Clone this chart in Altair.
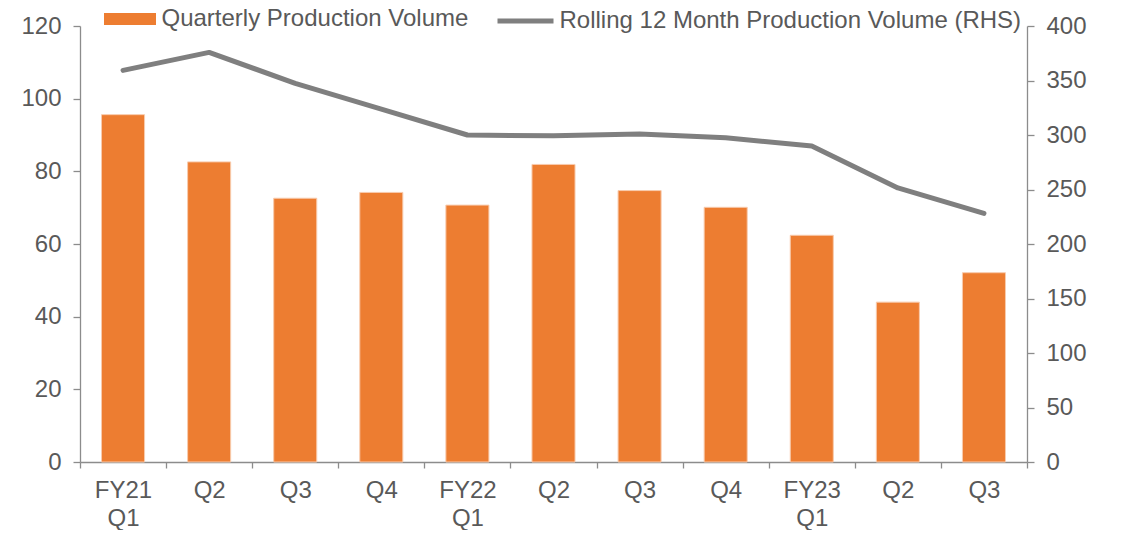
import altair as alt
import pandas as pd

# ---- data ----
periods = ["FY21 Q1", "FY21 Q2", "FY21 Q3", "FY21 Q4",
           "FY22 Q1", "FY22 Q2", "FY22 Q3", "FY22 Q4",
           "FY23 Q1", "FY23 Q2", "FY23 Q3"]
quarterly_volume = [95.6, 82.6, 72.6, 74.2, 70.7, 81.9, 74.7, 70.1, 62.4, 44.0, 52.1]
rolling_12m_volume = [359.3, 375.8, 347.4, 323.8, 300.0, 299.2, 301.0, 297.5, 289.9, 251.4, 228.1]
left_ticks = [0, 20, 40, 60, 80, 100, 120]
right_ticks = [0, 50, 100, 150, 200, 250, 300, 350, 400]
bar_series = "Quarterly Production Volume"
line_series = "Rolling 12 Month Production Volume (RHS)"

df = pd.DataFrame({
    "period": periods,
    "quarterly": quarterly_volume,
    "rolling": rolling_12m_volume,
    "bar_name": [bar_series] * len(periods),
    "line_name": [line_series] * len(periods),
})

FONT = "Liberation Sans"
TEXT = "#595959"
AXIS = "#8C8C8C"
ORANGE = "#ED7D31"
GREY = "#7F7F7F"

x_enc = alt.X(
    "period:N",
    sort=periods,
    scale=alt.Scale(paddingInner=0, paddingOuter=0),
    axis=alt.Axis(
        title=None,
        labelAngle=0,
        labelExpr=(
            "isString(datum.value) ? "
            "(indexof(datum.value, 'Q1') >= 0 ? split(datum.value, ' ') : split(datum.value, ' ')[1])"
            " : ''"
        ),
        tickBand="extent",
        tickSize=6,
        labelPadding=10,
        labelLineHeight=28,
        labelFontSize=24,
        grid=False,
    ),
)

base = alt.Chart(df)

bars = base.mark_bar(
    width={"band": 0.5},
    stroke="#F8CBAD",
    strokeWidth=1,
).encode(
    x=x_enc,
    y=alt.Y(
        "quarterly:Q",
        scale=alt.Scale(domain=[0, 120], nice=False, zero=True),
        axis=alt.Axis(
            title=None, orient="left", values=left_ticks, grid=False,
            tickSize=7, labelPadding=12, labelFontSize=24,
        ),
    ),
    color=alt.Color(
        "bar_name:N",
        scale=alt.Scale(range=[ORANGE]),
        legend=alt.Legend(
            title=None,
            orient="none",
            legendX=24,
            legendY=-33,
            symbolType="M-1,-0.23H1V0.23H-1Z",
            symbolSize=2704,
            symbolStrokeWidth=0,
            labelOffset=5.5,
            labelFontSize=24,
            labelLimit=1000,
        ),
    ),
)

line = base.mark_line(
    strokeWidth=5, strokeCap="round", strokeJoin="round"
).encode(
    x=x_enc,
    y=alt.Y(
        "rolling:Q",
        scale=alt.Scale(domain=[0, 400], nice=False, zero=True),
        axis=alt.Axis(
            title=None, orient="right", values=right_ticks, grid=False,
            tickSize=7, labelPadding=12, labelFontSize=24,
        ),
    ),
    stroke=alt.Stroke(
        "line_name:N",
        scale=alt.Scale(range=[GREY]),
        legend=alt.Legend(
            title=None,
            orient="none",
            legendX=415,
            legendY=-35.5,
            symbolType="M-1,0H1",
            symbolSize=3136,
            symbolStrokeWidth=5,
            labelOffset=3.5,
            labelFontSize=24,
            labelLimit=1000,
        ),
    ),
)

chart = (
    alt.layer(bars, line)
    .resolve_scale(y="independent")
    .properties(
        width=947,
        height=436,
        autosize=alt.AutoSizeParams(type="none"),
        padding={"left": 72, "top": 18, "right": 87, "bottom": 68},
    )
    .configure_view(stroke=None)
    .configure_axis(
        labelFont=FONT,
        labelColor=TEXT,
        domainColor=AXIS,
        tickColor=AXIS,
        domainWidth=1.3,
        tickWidth=1.3,
    )
    .configure_legend(labelFont=FONT, labelColor=TEXT)
)

chart.save("out.html", embed_options={"renderer": "svg", "actions": False})
